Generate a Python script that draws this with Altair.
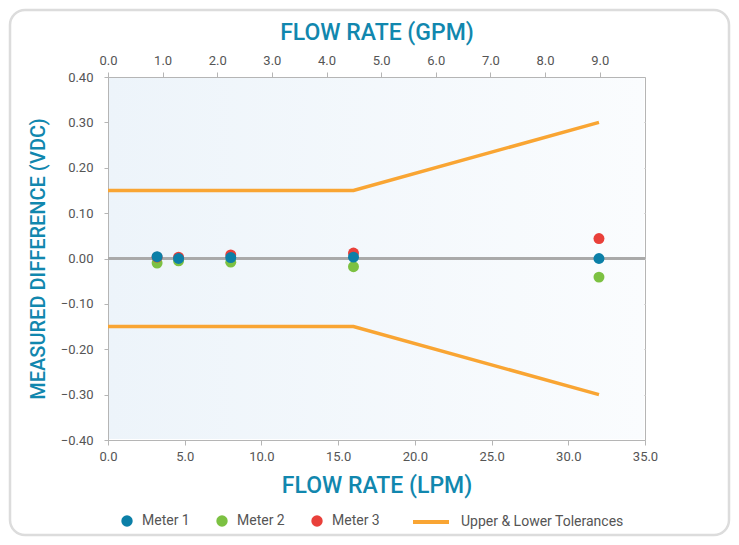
import altair as alt
import pandas as pd

# ---- data ----
lpm = [3.2, 4.6, 8.0, 16.0, 32.0]
meter1 = [0.004, 0.000, 0.002, 0.003, 0.000]
meter2 = [-0.010, -0.005, -0.008, -0.018, -0.041]
meter3 = [0.003, 0.003, 0.008, 0.012, 0.044]

tol_lpm = [0, 16, 32]
tol_upper = [0.15, 0.15, 0.30]
tol_lower = [-0.15, -0.15, -0.30]

meters = ["Meter 1", "Meter 2", "Meter 3"]
meter_colors = ["#0b7fa7", "#7cc142", "#e9403a"]
tol_name = "Upper & Lower Tolerances"
tol_color = "#f9a533"

lpm_ticks = [0, 5, 10, 15, 20, 25, 30, 35]
gpm_ticks = [0, 1, 2, 3, 4, 5, 6, 7, 8, 9]
gpm_max = 9.83
y_ticks = [-0.4, -0.3, -0.2, -0.1, 0.0, 0.1, 0.2, 0.3, 0.4]

# ---- tables ----
rows = []
# draw order: Meter 2, Meter 3, then Meter 1 on top
for name, vals in (("Meter 2", meter2), ("Meter 3", meter3), ("Meter 1", meter1)):
    for x, v in zip(lpm, vals):
        rows.append({"lpm": x, "value": v, "meter": name})
pts = pd.DataFrame(rows)

trows = []
for bound, vals in (("upper", tol_upper), ("lower", tol_lower)):
    for x, v in zip(tol_lpm, vals):
        trows.append({"lpm": x, "value": v, "bound": bound, "series": tol_name})
tol = pd.DataFrame(trows)

gpm_df = pd.DataFrame({"gpm": [0, gpm_max]})

TEAL = "#1187ae"
FONT = "Roboto"
W, H = 537, 363

x_enc = alt.X(
    "lpm:Q",
    scale=alt.Scale(domain=[0, 35], nice=False, zero=False),
    axis=alt.Axis(values=lpm_ticks, format=".1f", title="FLOW RATE (LPM)",
                  grid=False, labelFlush=False, labelPadding=5,
                  titleFontSize=23, titlePadding=11),
)
y_enc = alt.Y(
    "value:Q",
    scale=alt.Scale(domain=[-0.4, 0.4], nice=False),
    axis=alt.Axis(values=y_ticks, format=".2f", title="MEASURED DIFFERENCE (VDC)",
                  grid=True, tickSize=4, labelPadding=11, labelFlush=False,
                  titleFontSize=20, titlePadding=12),
)

zero_rule = alt.Chart(pts).mark_rule(color="#a9a9a9", strokeWidth=2).encode(
    y=alt.datum(0)
)

lines = alt.Chart(tol).mark_line(strokeWidth=3.5).encode(
    x=x_enc,
    y=y_enc,
    detail="bound:N",
    stroke=alt.Stroke(
        "series:N",
        scale=alt.Scale(domain=[tol_name], range=[tol_color]),
        legend=alt.Legend(orient="none", legendX=303, legendY=425, title=None,
                          symbolType="stroke", symbolSize=1296, symbolStrokeWidth=4,
                          labelOffset=10, labelFontSize=14, labelColor="#555",
                          labelFont=FONT, labelLimit=400),
    ),
)

points = alt.Chart(pts).mark_circle(size=120, opacity=1).encode(
    x=x_enc,
    y=y_enc,
    color=alt.Color(
        "meter:N",
        scale=alt.Scale(domain=meters, range=meter_colors),
        legend=alt.Legend(orient="none", legendX=12, legendY=437, title=None,
                          direction="horizontal", columns=3, columnPadding=25,
                          symbolType="circle", symbolSize=130, labelOffset=8,
                          labelFontSize=14, labelColor="#555", labelFont=FONT),
    ),
)

inner = alt.layer(zero_rule, lines, points)

top_axis = alt.Chart(gpm_df).mark_point(opacity=0).encode(
    x=alt.X("gpm:Q", scale=alt.Scale(domain=[0, gpm_max], nice=False, zero=False),
            axis=alt.Axis(orient="top", values=gpm_ticks, format=".1f",
                          title="FLOW RATE (GPM)", grid=False, labelFlush=False,
                          labelPadding=5, titleFontSize=23, titlePadding=10)),
)

bg = alt.Chart(gpm_df.head(1)).mark_rect(
    fill=alt.Gradient(
        gradient="linear", x1=0, y1=0, x2=1, y2=0,
        stops=[alt.GradientStop(offset=0, color="#edf4fa"),
               alt.GradientStop(offset=1, color="#fafcfe")],
    )
).encode(x=alt.value(1), x2=alt.value(W - 1), y=alt.value(1), y2=alt.value(H - 1))

frame = alt.Chart(gpm_df.head(1)).mark_rect(
    fill=None, stroke="#dcdcdc", strokeWidth=2.5, cornerRadius=15
).encode(
    x=alt.value(-98), x2=alt.value(621), y=alt.value(-67), y2=alt.value(458)
)

chart = alt.layer(bg, inner, top_axis, frame).resolve_scale(x="independent").properties(
    width=W,
    height=H,
    padding={"left": 100, "top": 69, "right": 86, "bottom": 97},
    autosize=alt.AutoSizeParams(type="none"),
    background="white",
).configure_view(
    stroke="#b5b5b5",
).configure_axis(
    labelFont=FONT, labelFontSize=13, labelColor="#555555",
    titleFont=FONT, titleFontWeight=500, titleColor=TEAL,
    domainColor="#b5b5b5", tickColor="#b5b5b5", tickSize=5,
    gridColor="#dadada",
)

chart.save("out.html", embed_options={"renderer": "svg", "actions": False})
